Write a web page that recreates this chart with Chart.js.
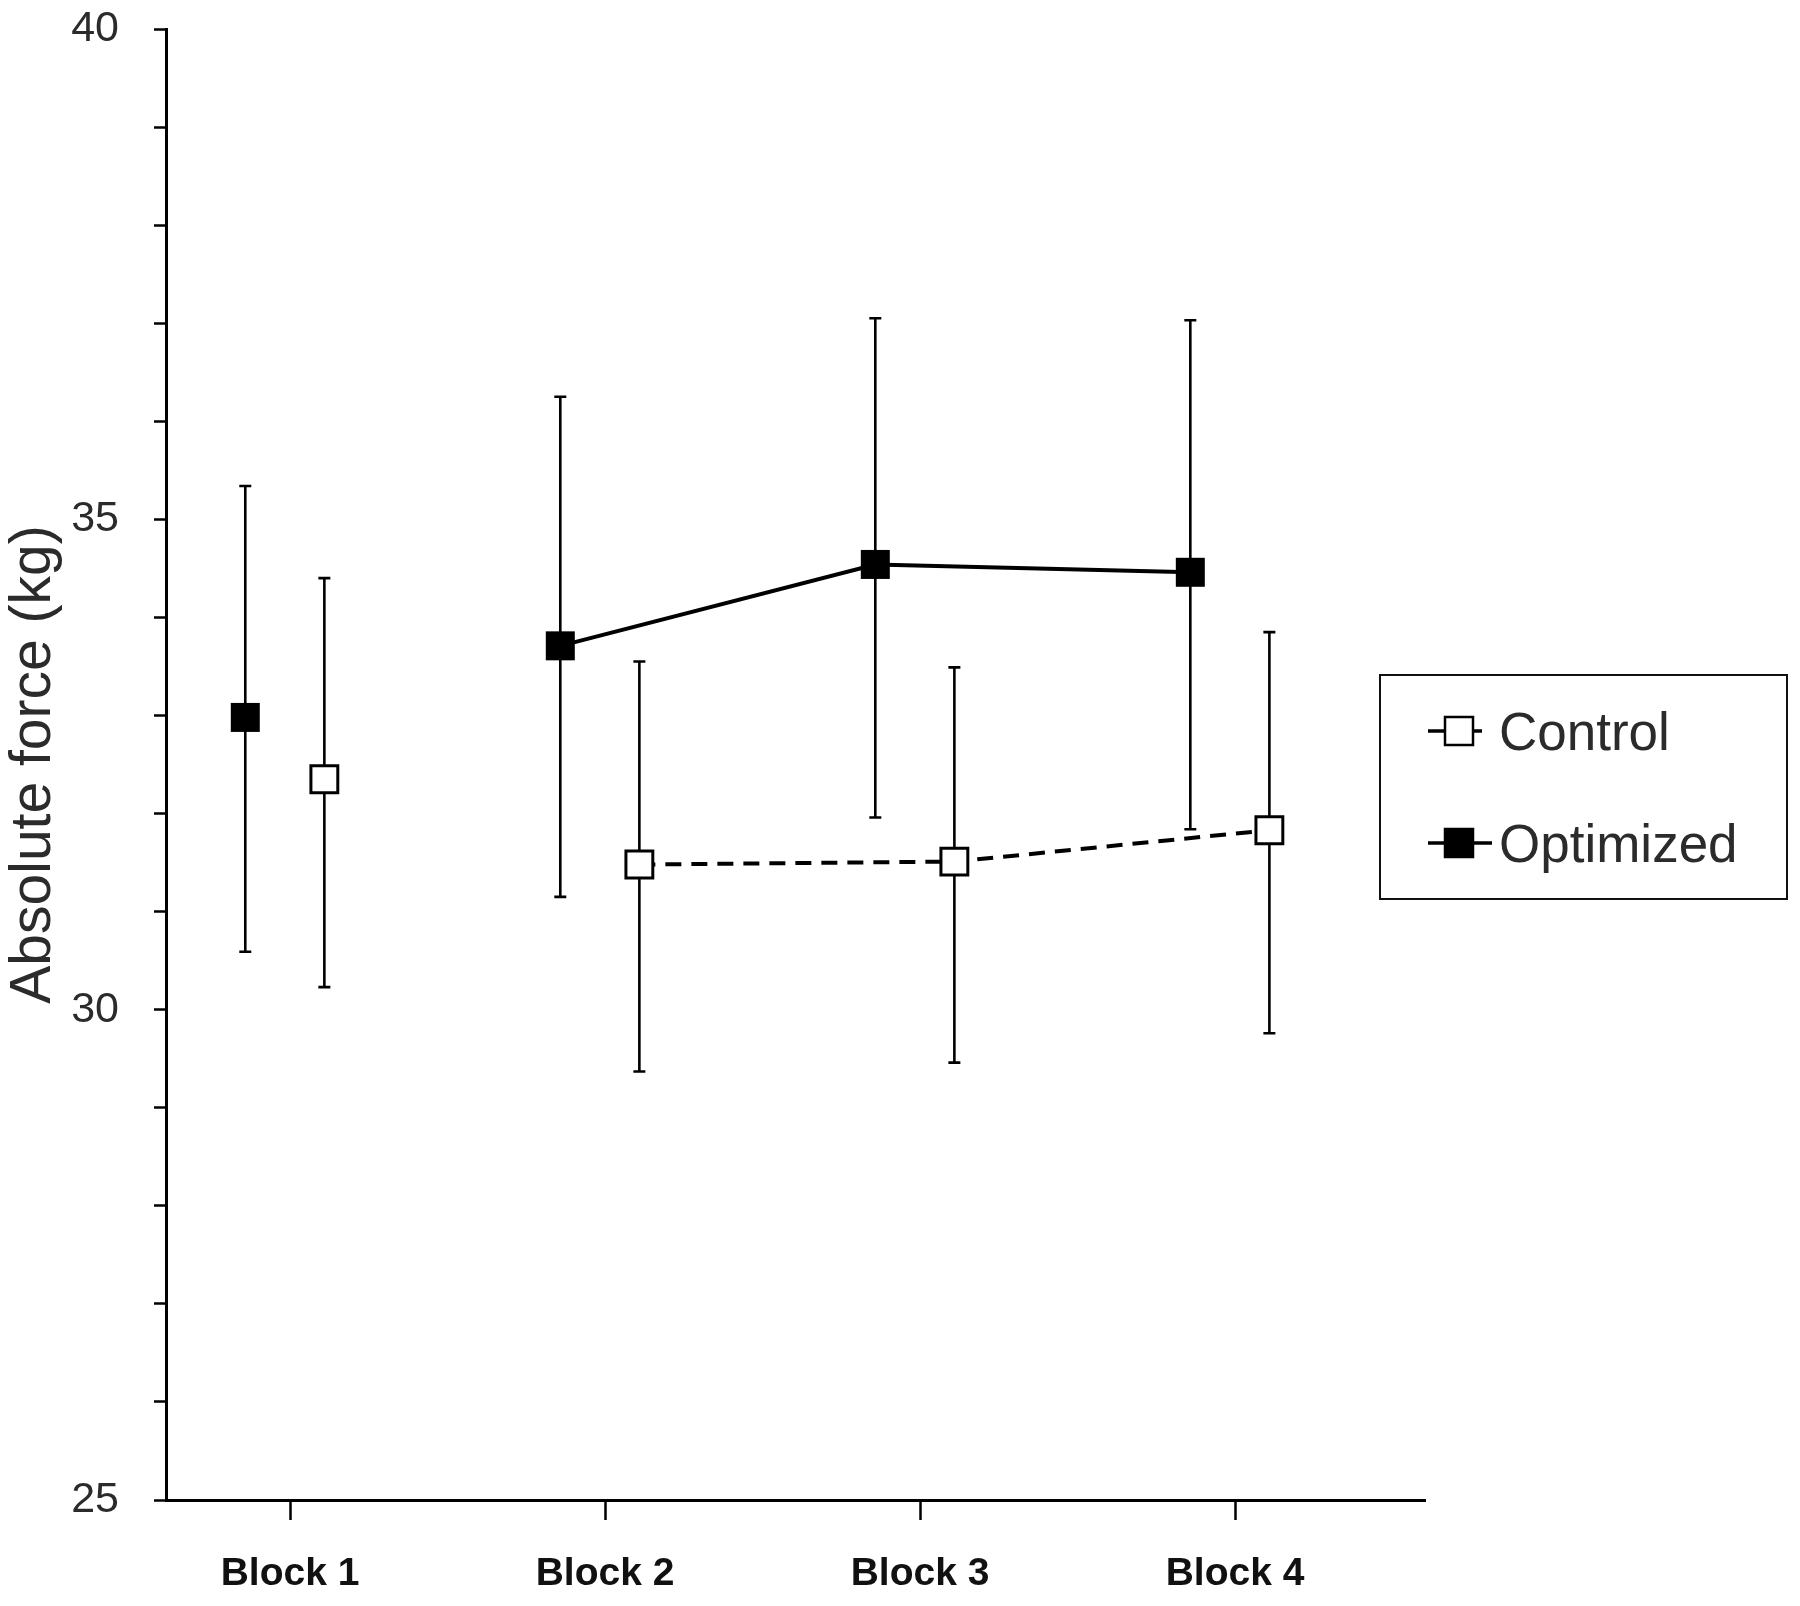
<!DOCTYPE html>
<html>
<head>
<meta charset="utf-8">
<script src="https://cdn.jsdelivr.net/npm/chart.js@4.4.1/dist/chart.umd.min.js"></script>
<style>
  html, body { margin: 0; padding: 0; background: #ffffff; }
  #wrap { position: relative; width: 1800px; height: 1606px; }
  canvas { display: block; }
</style>
</head>
<body>
<div id="wrap"><canvas id="c" width="1800" height="1606"></canvas></div>
<script>
// ---- data ----
const blocks = ['Block 1', 'Block 2', 'Block 3', 'Block 4'];
const blockNumbers = [1, 2, 3, 4];
const yTickLabels = [25, 30, 35, 40];

const controlMean  = [32.35, 31.48, 31.51, 31.83];
const controlUpper = [34.40, 33.55, 33.49, 33.85];
const controlLower = [30.23, 29.37, 29.46, 29.76];

const optimizedMean  = [32.98, 33.71, 34.54, 34.46];
const optimizedUpper = [35.34, 36.25, 37.05, 37.03];
const optimizedLower = [30.59, 31.15, 31.96, 31.84];

// ---- styling / layout ----
const FONT = '"Liberation Sans", Arial, sans-serif';
const dodge = { control: 0.109, optimized: -0.142 };

function pts(means, off) {
  return means.map((v, i) => ({ x: blockNumbers[i] + off, y: v }));
}

const hideFirstSegment = (color) => (ctx) => ctx.p0DataIndex === 0 ? 'rgba(0,0,0,0)' : color;

const errorBars = {
  id: 'errorBars',
  beforeDatasetsDraw(chart) {
    const ctx = chart.ctx;
    const ys = chart.scales.y;
    chart.data.datasets.forEach((ds, di) => {
      const meta = chart.getDatasetMeta(di);
      ctx.save();
      ctx.strokeStyle = '#000';
      ctx.lineWidth = 2.6;
      ctx.lineCap = 'butt';
      ds.errLower.forEach((lo, i) => {
        const el = meta.data[i];
        if (!el) return;
        const x = el.x;
        const yl = ys.getPixelForValue(lo);
        const yu = ys.getPixelForValue(ds.errUpper[i]);
        ctx.beginPath();
        ctx.moveTo(x, yl); ctx.lineTo(x, yu);
        ctx.moveTo(x - 6, yl); ctx.lineTo(x + 6, yl);
        ctx.moveTo(x - 6, yu); ctx.lineTo(x + 6, yu);
        ctx.stroke();
      });
      ctx.restore();
    });
  }
};

const boxLegend = {
  id: 'boxLegend',
  afterDraw(chart) {
    const ctx = chart.ctx;
    ctx.save();
    ctx.strokeStyle = '#111';
    ctx.lineWidth = 2;
    ctx.strokeRect(1380, 675, 407, 224);
    const rows = [
      { ds: chart.data.datasets[0], y: 731, base: 750, lineEnd: 1482 },
      { ds: chart.data.datasets[1], y: 843, base: 862, lineEnd: 1492 }
    ];
    rows.forEach(r => {
      ctx.strokeStyle = '#000';
      ctx.lineWidth = 3.5;
      ctx.beginPath();
      ctx.moveTo(1428, r.y); ctx.lineTo(r.lineEnd, r.y);
      ctx.stroke();
      ctx.fillStyle = r.ds.pointBackgroundColor;
      ctx.fillRect(1445, r.y - 14, 28, 28);
      ctx.lineWidth = 2.5;
      ctx.strokeRect(1445, r.y - 14, 28, 28);
      ctx.fillStyle = '#2b2b2b';
      ctx.font = '53px ' + FONT;
      ctx.textBaseline = 'alphabetic';
      ctx.textAlign = 'left';
      ctx.fillText(r.ds.label, 1499, r.base);
    });
    ctx.restore();
  }
};

new Chart(document.getElementById('c'), {
  type: 'line',
  data: {
    datasets: [
      {
        label: 'Control',
        data: pts(controlMean, dodge.control),
        errUpper: controlUpper,
        errLower: controlLower,
        borderColor: '#000',
        borderWidth: 4,
        borderDash: [16, 10],
        segment: { borderColor: hideFirstSegment('#000') },
        pointStyle: 'rect',
        pointRadius: 19,
        pointBackgroundColor: '#ffffff',
        pointBorderColor: '#000',
        pointBorderWidth: 3,
        fill: false,
        tension: 0
      },
      {
        label: 'Optimized',
        data: pts(optimizedMean, dodge.optimized),
        errUpper: optimizedUpper,
        errLower: optimizedLower,
        borderColor: '#000',
        borderWidth: 4,
        segment: { borderColor: hideFirstSegment('#000') },
        pointStyle: 'rect',
        pointRadius: 20.5,
        pointBackgroundColor: '#000000',
        pointBorderColor: '#000',
        pointBorderWidth: 0,
        fill: false,
        tension: 0
      }
    ]
  },
  options: {
    responsive: false,
    animation: false,
    events: [],
    layout: { padding: { top: 29, right: 375, bottom: 0, left: 0 } },
    plugins: { legend: { display: false }, tooltip: { enabled: false } },
    scales: {
      x: {
        type: 'linear',
        min: 0.6063,
        max: 4.603,
        afterBuildTicks(scale) { scale.ticks = blockNumbers.map(v => ({ value: v })); },
        afterFit(scale) { scale.height = 106; scale.paddingLeft = 0; scale.paddingRight = 0; },
        ticks: {
          callback: (v) => blocks[blockNumbers.indexOf(v)] ?? '',
          font: { family: FONT, size: 39, weight: 'bold' },
          color: '#111',
          padding: 31,
          maxRotation: 0,
          autoSkip: false
        },
        grid: { drawOnChartArea: false, drawTicks: true, tickLength: 20, tickColor: '#000', tickWidth: 2.5 },
        border: { display: true, color: '#000', width: 3 }
      },
      y: {
        type: 'linear',
        min: 25,
        max: 40,
        afterFit(scale) { scale.width = 166; scale.paddingTop = 0; scale.paddingBottom = 0; },
        ticks: {
          stepSize: 1,
          callback: (v) => yTickLabels.includes(v) ? String(v) : '',
          font: { family: FONT, size: 43 },
          color: '#2b2b2b',
          padding: 35,
          autoSkip: false
        },
        grid: { drawOnChartArea: false, drawTicks: true, tickLength: 12, tickColor: '#000', tickWidth: 2.5 },
        border: { display: true, color: '#000', width: 3 },
        title: {
          display: true,
          text: 'Absolute force (kg)',
          font: { family: FONT, size: 57 },
          color: '#2b2b2b',
          padding: { top: 0, bottom: 0 }
        }
      }
    }
  },
  plugins: [errorBars, boxLegend]
});
</script>
</body>
</html>
